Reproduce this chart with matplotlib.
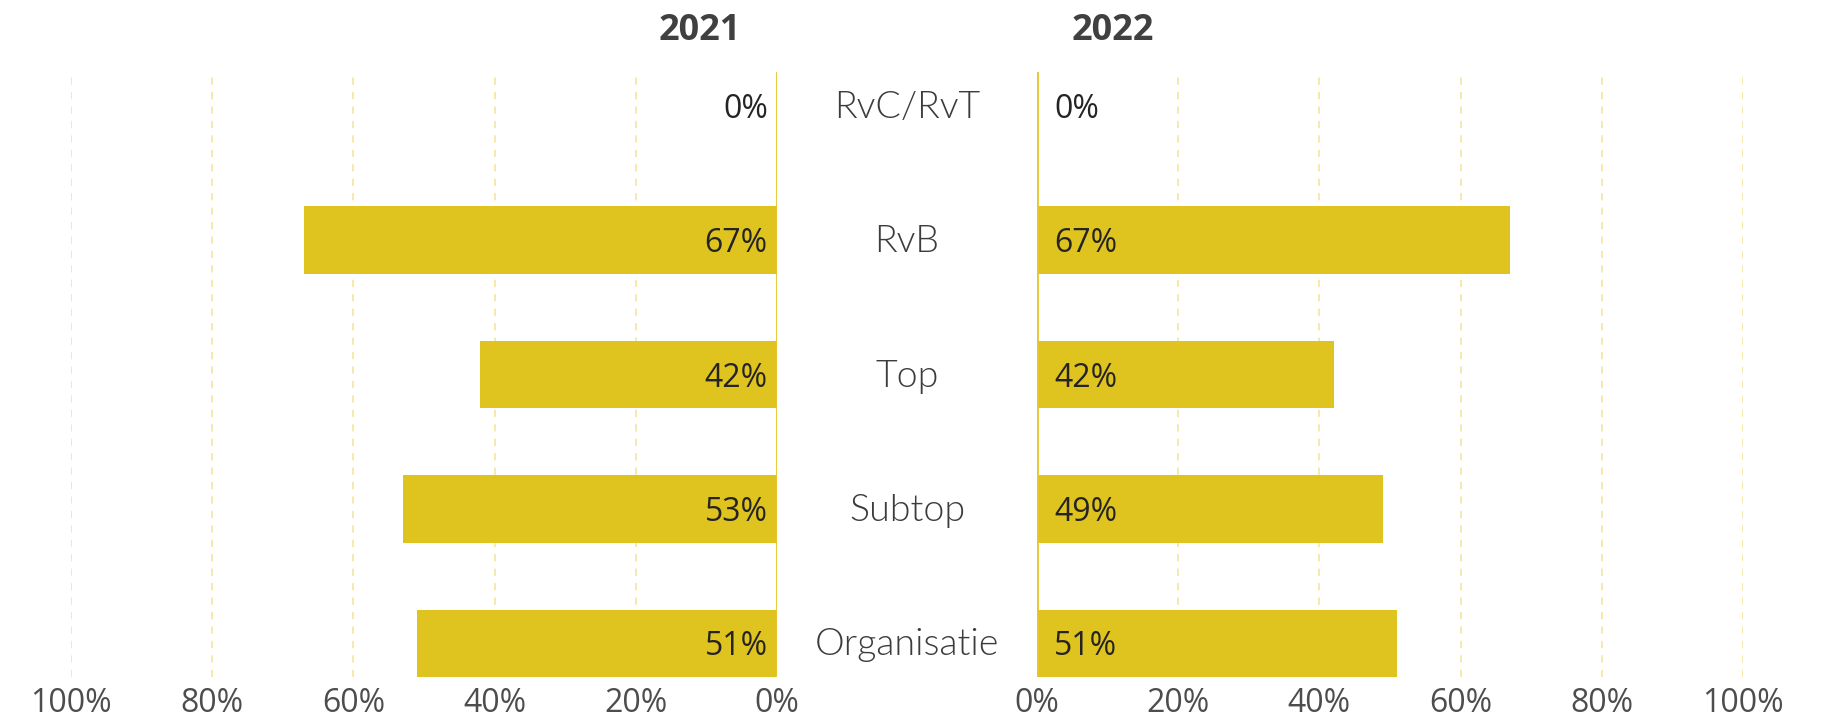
import matplotlib
matplotlib.use("Agg")
import matplotlib.pyplot as plt

categories = ["RvC/RvT", "RvB", "Top", "Subtop", "Organisatie"]
vals_2021 = [0, 67, 42, 53, 51]
vals_2022 = [0, 67, 42, 49, 51]
ticks = [0, 20, 40, 60, 80, 100]
tick_labels = ["0%", "20%", "40%", "60%", "80%", "100%"]

bar_color = "#DFC41F"
grid_color = "#F6E7A4"
plt.rcParams["font.family"] = ["Open Sans", "DejaVu Sans"]

fig = plt.figure(figsize=(18.27, 7.2), dpi=100)
ax_l = fig.add_axes([71 / 1827, 0.0597, 706 / 1827, 0.8403])
ax_r = fig.add_axes([1037 / 1827, 0.0597, 706 / 1827, 0.8403])

h = 0.502
ypos = list(range(len(categories)))

for ax, vals, side in [(ax_l, vals_2021, "left"), (ax_r, vals_2022, "right")]:
    ax.barh(ypos, vals, height=h, color=bar_color, zorder=2)
    ax.set_xlim(0, 100)
    ax.set_ylim(len(categories) - 1 + h / 2, -h / 2)
    ax.set_xticks(ticks)
    ax.set_xticklabels(tick_labels, fontsize=23, color="#4D4D4D")
    ax.tick_params(axis="x", length=0, pad=7)
    ax.set_yticks([])
    for s in ax.spines.values():
        s.set_visible(False)
    for t in ticks[1:]:
        ax.axvline(t, color=grid_color, lw=1.3, ls=(0, (4, 4)), zorder=1)
    ax.axvline(0, color="#E6C62A", lw=2, zorder=3)
    for y, v in zip(ypos, vals):
        if side == "left":
            ax.text(1.3, y + 0.026, f"{v}%", ha="right", va="center", fontsize=23,
                    color="#252423", zorder=4)
        else:
            ax.text(2.4, y + 0.026, f"{v}%", ha="left", va="center", fontsize=23,
                    color="#252423", zorder=4)

ax_l.invert_xaxis()

for y, c in zip(ypos, categories):
    ax_r.text(-18.4, y + 0.015, c, ha="center", va="center", fontsize=27,
              family=["Lato", "Open Sans", "DejaVu Sans"], fontweight=300,
              color="#3C3C3C", clip_on=False)

fig.text(700 / 1827, 1 - 31 / 720, "2021", ha="center", va="center",
         fontsize=26, fontweight="bold", color="#404040")
fig.text(1113 / 1827, 1 - 31 / 720, "2022", ha="center", va="center",
         fontsize=26, fontweight="bold", color="#404040")

fig.savefig("out.png", dpi=100, facecolor="white")
